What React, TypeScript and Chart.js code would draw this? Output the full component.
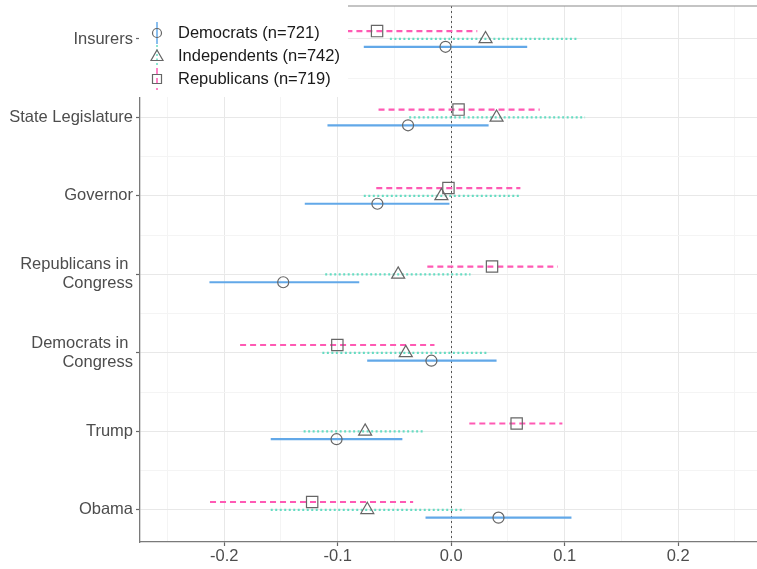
import React, { useEffect, useRef } from 'react';
import { Chart, registerables } from 'chart.js';

Chart.register(...registerables);

// Categories listed top to bottom
const categories: (string | string[])[] = [
  'Insurers',
  'State Legislature',
  'Governor',
  ['Republicans in ', 'Congress'],
  ['Democrats in ', 'Congress'],
  'Trump',
  'Obama',
];

const seriesNames = ['Democrats (n=721)', 'Independents (n=742)', 'Republicans (n=719)'];

// Democrats: estimate, lower, upper
const demEst = [-0.005, -0.038, -0.065, -0.148, -0.0174, -0.101, 0.0417];
const demLo = [-0.077, -0.109, -0.129, -0.213, -0.074, -0.159, -0.0226];
const demHi = [0.067, 0.033, -0.0015, -0.081, 0.04, -0.043, 0.106];

// Independents
const indEst = [0.0303, 0.04, -0.0086, -0.0467, -0.04, -0.0758, -0.0739];
const indLo = [-0.054, -0.037, -0.077, -0.111, -0.1135, -0.13, -0.159];
const indHi = [0.112, 0.118, 0.06, 0.017, 0.032, -0.0245, 0.0117];

// Republicans
const repEst = [-0.0653, 0.0065, -0.0024, 0.036, -0.1003, 0.0577, -0.1225];
const repLo = [-0.154, -0.064, -0.066, -0.021, -0.186, 0.016, -0.2125];
const repHi = [0.023, 0.078, 0.061, 0.094, -0.0147, 0.098, -0.0335];

const xTickValues = [-0.25, -0.2, -0.15, -0.1, -0.05, 0, 0.05, 0.1, 0.15, 0.2, 0.25];

const FONT = '"Liberation Sans", Arial, Helvetica, sans-serif';

export default function App() {
  const ref = useRef<HTMLCanvasElement>(null);

  useEffect(() => {
    const canvas = ref.current;
    if (!canvas) return;
    const n = categories.length;
    const pos = (i: number) => n - 1 - i;

    const series = [
      { name: seriesNames[0], est: demEst, lo: demLo, hi: demHi, color: '#62A8E8', dash: [] as number[], shape: 'circle', r: 5.5, off: -0.1 },
      { name: seriesNames[1], est: indEst, lo: indLo, hi: indHi, color: '#66DCC2', dash: [2, 2.5], shape: 'triangle', r: 7.5, off: 0 },
      { name: seriesNames[2], est: repEst, lo: repLo, hi: repHi, color: '#FF5AB4', dash: [6, 4], shape: 'rect', r: 8, off: 0.1 },
    ];

    const datasets: any[] = [];
    series.forEach((s) => {
      datasets.push({
        label: s.name,
        data: s.est.map((v, i) => ({ x: v, y: pos(i) + s.off })),
        pointStyle: s.shape,
        pointRadius: s.r,
        pointHoverRadius: s.r,
        borderColor: '#666666',
        backgroundColor: 'rgba(0,0,0,0)',
        pointBorderWidth: 1.2,
        showLine: false,
      });
    });
    series.forEach((s) => {
      s.lo.forEach((lo, i) => {
        datasets.push({
          label: s.name + ' CI ' + i,
          data: [
            { x: lo, y: pos(i) + s.off },
            { x: s.hi[i], y: pos(i) + s.off },
          ],
          showLine: true,
          borderColor: s.color,
          borderDash: s.dash,
          borderWidth: 2.2,
          pointRadius: 0,
          pointHoverRadius: 0,
          borderCapStyle: 'butt',
        });
      });
    });

    const isMajorX = (v: number) => Math.abs(v * 10 - Math.round(v * 10)) < 1e-6;
    const isMajorY = (v: number) => Math.abs(v - Math.round(v)) < 1e-6;

    const overlay = {
      id: 'overlay',
      beforeDatasetsDraw(chart: any) {
        const { ctx, chartArea } = chart;
        const xs = chart.scales.x;
        ctx.save();
        // zero reference line
        const x0 = Math.round(xs.getPixelForValue(0)) + 0.5;
        ctx.strokeStyle = '#555555';
        ctx.lineWidth = 1;
        ctx.setLineDash([2, 3]);
        ctx.beginPath();
        ctx.moveTo(x0, chartArea.top);
        ctx.lineTo(x0, chartArea.bottom);
        ctx.stroke();
        ctx.setLineDash([]);
        // top border line
        ctx.strokeStyle = '#8a8a8a';
        ctx.lineWidth = 1.2;
        ctx.beginPath();
        ctx.moveTo(chartArea.left, chartArea.top);
        ctx.lineTo(chartArea.right, chartArea.top);
        ctx.stroke();
        ctx.restore();
      },
      afterDraw(chart: any) {
        const { ctx } = chart;
        ctx.save();
        ctx.fillStyle = '#ffffff';
        ctx.fillRect(139, 0, 209, 97);
        const rows = [33, 56, 79];
        const kx = 157;
        series.forEach((s, k) => {
          const y = rows[k];
          ctx.strokeStyle = s.color;
          ctx.lineWidth = 1.5;
          ctx.setLineDash(s.dash);
          ctx.beginPath();
          ctx.moveTo(kx, y - 11);
          ctx.lineTo(kx, y + 11);
          ctx.stroke();
          ctx.setLineDash([]);
          ctx.strokeStyle = '#666666';
          ctx.lineWidth = 1.2;
          ctx.beginPath();
          if (s.shape === 'circle') {
            ctx.arc(kx, y, 4.5, 0, Math.PI * 2);
          } else if (s.shape === 'triangle') {
            ctx.moveTo(kx, y - 6);
            ctx.lineTo(kx + 6, y + 4.5);
            ctx.lineTo(kx - 6, y + 4.5);
            ctx.closePath();
          } else {
            ctx.rect(kx - 4.5, y - 4.5, 9, 9);
          }
          ctx.stroke();
          ctx.fillStyle = '#1a1a1a';
          ctx.font = '16.5px ' + FONT;
          ctx.textBaseline = 'middle';
          ctx.textAlign = 'left';
          ctx.fillText(s.name, 178, y);
        });
        ctx.restore();
      },
    };

    const chart = new Chart(canvas, {
      type: 'scatter',
      data: { datasets },
      options: {
        animation: false,
        responsive: false,
        events: [],
        layout: { autoPadding: false, padding: { top: 6, right: 0, left: 0, bottom: 0 } },
        plugins: {
          legend: { display: false },
          tooltip: { enabled: false },
        },
        scales: {
          x: {
            type: 'linear',
            min: -0.2742,
            max: 0.2695,
            afterBuildTicks: (scale: any) => {
              scale.ticks = xTickValues.map((v) => ({ value: v }));
            },
            afterFit: (scale: any) => {
              scale.height = 27;
              scale.paddingLeft = 0;
              scale.paddingRight = 0;
              scale.paddingTop = 0;
              scale.paddingBottom = 0;
            },
            ticks: {
              autoSkip: false,
              maxRotation: 0,
              padding: 1,
              color: '#4d4d4d',
              font: { family: FONT, size: 16.5 },
              callback: (v: any) => (isMajorX(Number(v)) ? Number(v).toFixed(1) : ''),
            },
            grid: {
              color: (c: any) => (c.tick && isMajorX(c.tick.value) ? '#e8e8e8' : '#f4f4f4'),
              lineWidth: 1,
              tickLength: 4,
              tickColor: (c: any) => (c.tick && isMajorX(c.tick.value) ? '#666666' : 'rgba(0,0,0,0)'),
              tickWidth: 1.2,
            },
            border: { display: true, color: '#7a7a7a', width: 1.3 },
          },
          y: {
            type: 'linear',
            min: -0.41,
            max: 6.42,
            afterBuildTicks: (scale: any) => {
              const t: any[] = [];
              for (let v = 0; v <= 6; v += 0.5) t.push({ value: v });
              scale.ticks = t;
            },
            afterFit: (scale: any) => {
              scale.width = 140;
              scale.paddingLeft = 0;
              scale.paddingRight = 0;
              scale.paddingTop = 0;
              scale.paddingBottom = 0;
            },
            ticks: {
              autoSkip: false,
              padding: 3,
              color: '#4d4d4d',
              font: { family: FONT, size: 16.5, lineHeight: 1.15 },
              callback: (v: any) => {
                const num = Number(v);
                if (!isMajorY(num)) return '';
                return categories[n - 1 - Math.round(num)] as any;
              },
            },
            grid: {
              color: (c: any) => (c.tick && isMajorY(c.tick.value) ? '#e8e8e8' : '#f4f4f4'),
              lineWidth: 1,
              tickLength: 4,
              tickColor: (c: any) => (c.tick && isMajorY(c.tick.value) ? '#666666' : 'rgba(0,0,0,0)'),
              tickWidth: 1.2,
            },
            border: { display: true, color: '#7a7a7a', width: 1.3 },
          },
        },
      } as any,
      plugins: [overlay],
    });

    return () => {
      chart.destroy();
    };
  }, []);

  return (
    <div style={{ position: 'absolute', left: 0, top: 0, width: 757, height: 569, background: '#ffffff' }}>
      <canvas ref={ref} width={757} height={569} style={{ display: 'block', width: 757, height: 569 }} />
    </div>
  );
}
